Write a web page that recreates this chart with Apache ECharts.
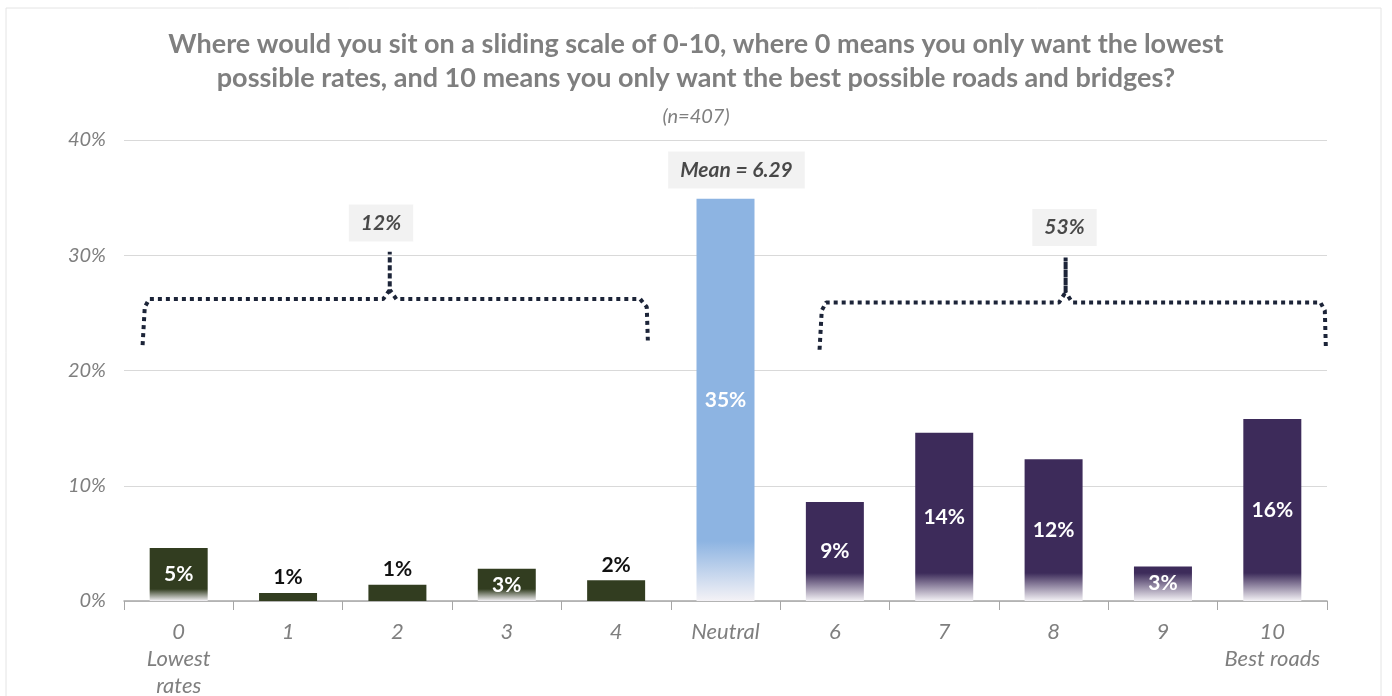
<!DOCTYPE html>
<html>
<head>
    <meta charset="utf-8">
    <title>Sliding scale</title>
    <script src="https://cdn.jsdelivr.net/npm/echarts@6/dist/echarts.min.js"></script>
    <style type="text/css">
        html, body {
            margin: 0;
            padding: 0;
            background: #ffffff;
        }

        #main {
            width: 1392px;
            height: 696px;
        }
    </style>
</head>
<body>
<div id="main"></div>
<script>
    // data
    var categories = ['0\nLowest\nrates', '1', '2', '3', '4', 'Neutral', '6', '7', '8', '9', '10\nBest roads'];
    var values = [4.6, 0.7, 1.4, 2.8, 1.8, 34.9, 8.6, 14.6, 12.3, 3.0, 15.8];
    var valueLabels = ['5%', '1%', '1%', '3%', '2%', '35%', '9%', '14%', '12%', '3%', '16%'];
    var groups = ['low', 'low', 'low', 'low', 'low', 'neutral', 'high', 'high', 'high', 'high', 'high'];
    var yTicks = [0, 10, 20, 30, 40];

    // brackets, in (category position, percent)
    var lowBracket = [[-0.33, 22.2], [-0.31, 25.5], [-0.27, 26.2], [1.87, 26.2], [1.93, 27.0], [1.93, 30.3],
        [1.93, 27.0], [1.99, 26.2], [4.22, 26.2], [4.28, 25.5], [4.29, 22.6]];
    var highBracket = [[5.86, 21.8], [5.88, 25.2], [5.92, 25.9], [8.05, 25.9], [8.11, 26.8], [8.11, 29.8],
        [8.11, 26.8], [8.17, 25.9], [10.44, 25.9], [10.48, 25.2], [10.49, 21.8]];
    var boxLabels = [
        {name: '12%', pos: [1.85, 32.8]},
        {name: '53%', pos: [8.1, 32.4]},
        {name: 'Mean = 6.29', pos: [5.1, 37.4]}
    ];

    var colors = {low: '#323d20', neutral: '#8db4e2', high: '#3d2b5a'};
    var fadePx = {low: 12, neutral: 60, high: 28};
    var pxPerPct = 461 / 40;

    var barData = values.map(function (v, i) {
        var g = groups[i];
        var h = v * pxPerPct;
        var stop = h > 30 ? 1 - fadePx[g] / h : 1;
        var inside = h > 30;
        return {
            value: v,
            itemStyle: {
                color: {
                    type: 'linear', x: 0, y: 0, x2: 0, y2: 1,
                    colorStops: [
                        {offset: 0, color: colors[g]},
                        {offset: Math.max(0, stop), color: colors[g]},
                        {offset: 1, color: stop < 1 ? '#f4f2f6' : colors[g]}
                    ]
                }
            },
            label: {
                show: true,
                position: inside ? 'inside' : 'top',
                color: inside ? '#ffffff' : '#111111',
                formatter: valueLabels[i]
            }
        };
    });

    var font = 'Lato, "Open Sans", sans-serif';
    var dotted = {color: '#1c2438', width: 4, type: [4, 4], cap: 'butt'};

    var myChart = echarts.init(document.getElementById('main'));
    var option = {
        animation: false,
        textStyle: {fontFamily: font},
        title: [{
            text: 'Where would you sit on a sliding scale of 0-10, where 0 means you only want the lowest\npossible rates, and 10 means you only want the best possible roads and bridges?',
            left: 'center',
            top: 22,
            textStyle: {fontSize: 27, lineHeight: 34, fontWeight: 'bold', color: '#7f7f7f', fontFamily: font}
        }, {
            text: '(n=407)',
            left: 'center',
            top: 102,
            textStyle: {fontSize: 20, fontStyle: 'italic', fontWeight: 'normal', color: '#7f7f7f', fontFamily: font}
        }],
        graphic: [{
            type: 'rect',
            shape: {x: 6, y: 8, width: 1375, height: 700},
            style: {fill: 'none', stroke: '#e4e4e4', lineWidth: 1},
            silent: true
        }],
        grid: {left: 124, right: 65, top: 140, bottom: 95, outerBoundsMode: 'none', containLabel: false},
        xAxis: [{
            type: 'category',
            data: categories,
            axisLine: {lineStyle: {color: '#a6a6a6', width: 1.5}},
            axisTick: {show: true, length: 9, lineStyle: {color: '#a6a6a6'}},
            axisLabel: {
                interval: 0,
                color: '#7f7f7f',
                fontSize: 22,
                fontStyle: 'italic',
                lineHeight: 27,
                margin: 17
            }
        }, {
            type: 'value',
            min: -0.5,
            max: 10.5,
            show: false
        }],
        yAxis: {
            type: 'value',
            min: yTicks[0],
            max: yTicks[yTicks.length - 1],
            interval: 10,
            axisLine: {show: false},
            axisTick: {show: false},
            splitLine: {lineStyle: {color: '#d9d9d9', width: 1.2}},
            axisLabel: {
                formatter: '{value}%',
                color: '#7f7f7f',
                fontSize: 20,
                fontStyle: 'italic',
                margin: 18
            }
        },
        series: [{
            type: 'bar',
            data: barData,
            barWidth: 58,
            label: {fontSize: 21, fontWeight: 'bold', fontFamily: font}
        }, {
            type: 'line',
            xAxisIndex: 1,
            data: lowBracket,
            symbol: 'none',
            lineStyle: dotted,
            silent: true
        }, {
            type: 'line',
            xAxisIndex: 1,
            data: highBracket,
            symbol: 'none',
            lineStyle: dotted,
            silent: true
        }, {
            type: 'scatter',
            xAxisIndex: 1,
            symbolSize: 0,
            data: boxLabels.map(function (b) {
                return {name: b.name, value: b.pos};
            }),
            label: {
                show: true,
                position: 'inside',
                formatter: '{b}',
                fontSize: 21,
                fontStyle: 'italic',
                fontWeight: 'bold',
                color: '#1e1e1e',
                backgroundColor: '#efefef',
                padding: [8, 12, 8, 12]
            },
            silent: true
        }]
    };
    myChart.setOption(option);
</script>
</body>
</html>
